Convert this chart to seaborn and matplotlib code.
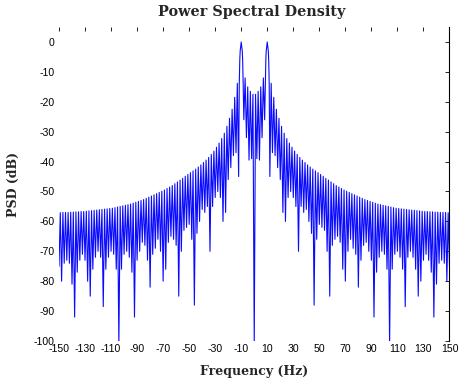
import numpy as np
import pandas as pd
import matplotlib
matplotlib.use("Agg")
import matplotlib.pyplot as plt
import seaborn as sns

# between the two carriers (0..8 Hz)
inner_freq = [0, 1, 2, 3, 4, 5, 6, 7, 8]
inner_db = [-101, -17.5, -39, -16.5, -39.5, -15, -32, -12, -26]

# main lobe of the 10 Hz carrier
main_freq = [8.5, 8.9, 9.2, 10.0, 10.8, 11.1, 11.5]
main_db = [-14, -6, -3, 0, -3, -6, -14]

# sidelobe tops (odd Hz, 13..149)
peak_freq = list(range(13, 150, 2))
peak_db = [-13.8, -18.5, -22.5, -25.5, -28.2, -30.5, -32.3, -33.8, -35.2, -36.5,
           -37.6, -38.6, -39.5, -40.3, -41.1, -41.8, -42.5, -43.1, -43.7, -44.3,
           -44.9, -45.6, -46.2, -46.8, -47.4, -48.0, -48.5, -49.0, -49.5, -49.9,
           -50.3, -50.7, -51.1, -51.5, -51.9, -52.3, -52.7, -53.0, -53.3, -53.6,
           -53.9, -54.2, -54.4, -54.6, -54.8, -55.0, -55.2, -55.4, -55.6, -55.7,
           -55.8, -55.9, -56.0, -56.1, -56.2, -56.3, -56.4, -56.5, -56.6, -56.7,
           -56.7, -56.8, -56.8, -56.9, -56.9, -57.0, -57.0, -57.0, -57.1]

# nulls between sidelobes (even Hz, 12..150)
null_freq = list(range(12, 151, 2))
null_db = [-45, -37, -38, -42, -46, -57, -60, -52, -50, -52,
           -55, -70, -55, -57, -56, -60, -64, -88, -66, -61,
           -62, -63, -70, -85, -68, -66, -65, -67, -76, -80,
           -70, -66, -69, -71, -82, -73, -68, -67, -70, -73,
           -92, -77, -72, -70, -71, -76, -101, -76, -71, -70,
           -72, -76, -88.5, -72, -70, -72, -76, -85, -80, -73,
           -71, -73, -77, -92, -81, -74, -73, -74, -80, -75]

half = pd.DataFrame({
    "freq": inner_freq + main_freq + peak_freq + null_freq,
    "psd": inner_db + main_db + peak_db + null_db,
})
mirror = half[half["freq"] > 0].assign(freq=lambda d: -d["freq"])
spec = pd.concat([mirror, half]).sort_values("freq").reset_index(drop=True)

sns.set_style("white")
plt.rcParams["font.family"] = ["Liberation Sans", "DejaVu Sans"]
plt.rcParams["axes.unicode_minus"] = False

fig = plt.figure(figsize=(4.62, 3.81), dpi=100)
ax = fig.add_axes([0.1277, 0.105, 0.8452, 0.824])

sns.lineplot(data=spec, x="freq", y="psd", ax=ax, color="#0a0aff",
             linewidth=0.8, estimator=None, sort=False)

ax.set_xlim(-150, 150)
ax.set_ylim(-100, 5)
ax.set_xticks(np.arange(-150, 151, 20))
ax.set_yticks(np.arange(-100, 1, 10))
ax.tick_params(direction="in", top=True, right=True, length=3, width=0.6,
               labelsize=7.6, colors="black")
ax.tick_params(axis="x", pad=2.5)
ax.tick_params(axis="y", pad=3)

for side in ["left", "top", "bottom"]:
    ax.spines[side].set_visible(False)
ax.spines["right"].set_color("black")
ax.spines["right"].set_linewidth(0.8)

serif = {"family": "DejaVu Serif", "weight": "bold"}
ax.set_xlabel("Frequency (Hz)", fontdict=serif, fontsize=9)
ax.set_ylabel("PSD (dB)", fontdict=serif, fontsize=9)
ax.xaxis.set_label_coords(0.5, -0.075)
ax.yaxis.set_label_coords(-0.1, 0.5)
fig.text(252 / 462, 1 - 12 / 381, "Power Spectral Density", ha="center",
         va="center", fontsize=10.4, **serif)

fig.savefig("out.png", dpi=100)
